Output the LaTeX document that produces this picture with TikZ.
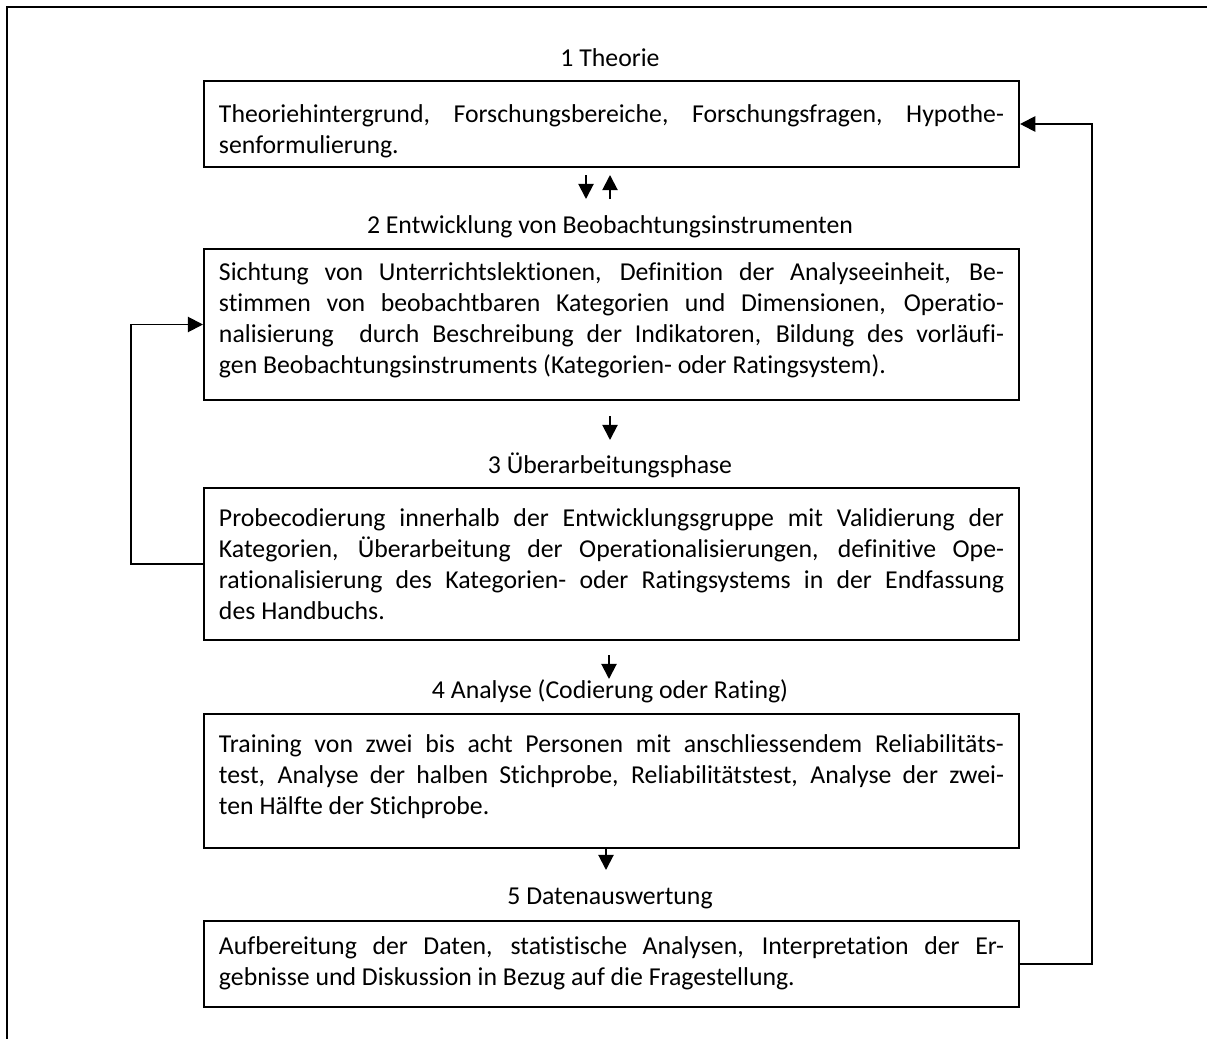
\documentclass[tikz,border=0pt]{standalone}
\usepackage{fontspec}
\setmainfont{Carlito}[Ligatures=NoCommon]
\usetikzlibrary{arrows.meta}

\hyphenpenalty=10000
\exhyphenpenalty=10000
\tolerance=10000

\tikzset{
  kasten/.style={draw, line width=0.85pt, anchor=north west,
    text width=11.775cm, inner xsep=0.225cm, inner ysep=0pt,
    align=justify, font=\fontsize{11}{13.2}\selectfont,
    execute at end node={\par\vspace{#1}}},
  kasten/.default=0pt,
  titel/.style={inner sep=0pt, font=\fontsize{11}{13.2}\selectfont},
  pfeil/.style={-{Triangle[length=6.5pt,width=6.5pt]}, line width=0.85pt},
  rahmen/.style={line width=1.2pt}
}

\begin{document}
\begin{tikzpicture}[x=0.015cm, y=-0.015cm]
    \useasboundingbox (0,0) rectangle (1207,1039);

    % Rahmen
    \draw[rahmen] (7,1039) -- (7,7) -- (1207,7);

    % Titel der Phasen
    \node[titel] (t1) at (610,58) {1 Theorie};
    \node[titel] (t2) at (610,227) {2 Entwicklung von Beobachtungsinstrumenten};
    \node[titel] (t3) at (610,465) {3 Überarbeitungsphase};
    \node[titel] (t4) at (610,691) {4 Analyse (Codierung oder Rating)};
    \node[titel] (t5) at (610,898) {5 Datenauswertung};

    % Kästen
    \node[kasten=-6pt, minimum height=1.29cm] (b1) at (203,80)
      {Theoriehintergrund, Forschungsbereiche, Forschungsfragen, Hypothe-\linebreak
       senformulierung.};
    \node[kasten=3.4pt, minimum height=2.265cm] (b2) at (203,248)
      {Sichtung von Unterrichtslektionen, Definition der Analyseeinheit, Be-\linebreak
       stimmen von beobachtbaren Kategorien und Dimensionen, Operatio-\linebreak
       nalisierung\ \ durch Beschreibung der Indikatoren, Bildung des vorläufi-\linebreak
       gen Beobachtungsinstruments (Kategorien- oder Ratingsystem).};
    \node[kasten, minimum height=2.28cm] (b3) at (203,487)
      {Probecodierung innerhalb der Entwicklungsgruppe mit Validierung der\linebreak
       Kategorien, Überarbeitung der Operationalisierungen, definitive Ope-\linebreak
       rationalisierung des Kategorien- oder Ratingsystems in der Endfassung\linebreak
       des Handbuchs.};
    \node[kasten=4pt, minimum height=2.01cm] (b4) at (203,713)
      {Training von zwei bis acht Personen mit anschliessendem Reliabilitäts-\linebreak
       test, Analyse der halben Stichprobe, Reliabilitätstest, Analyse der zwei-\linebreak
       ten Hälfte der Stichprobe.};
    \node[kasten=1pt, minimum height=1.29cm] (b5) at (203,920)
      {Aufbereitung der Daten, statistische Analysen, Interpretation der Er-\linebreak
       gebnisse und Diskussion in Bezug auf die Fragestellung.};

    % Pfeile zwischen den Phasen
    \coordinate (p1a) at (586,175);
    \coordinate (p1b) at (586,199);
    \coordinate (p2a) at (610,199);
    \coordinate (p2b) at (610,175);
    \coordinate (p3a) at (610,416);
    \coordinate (p3b) at (610,440);
    \coordinate (p4a) at (609,655);
    \coordinate (p4b) at (609,679);
    \coordinate (p5a) at (606,848);
    \coordinate (p5b) at (606,870);
    \draw[pfeil] (p1a) -- (p1b);
    \draw[pfeil] (p2a) -- (p2b);
    \draw[pfeil] (p3a) -- (p3b);
    \draw[pfeil] (p4a) -- (p4b);
    \draw[pfeil] (p5a) -- (p5b);

    % Rückkopplungen
    \draw[pfeil] (b3.west) -- ++(-72,0) |- (b2.west);
    \draw[pfeil] (b5.east) -- ++(72,0) |- (b1.east);

\end{tikzpicture}
\end{document}
